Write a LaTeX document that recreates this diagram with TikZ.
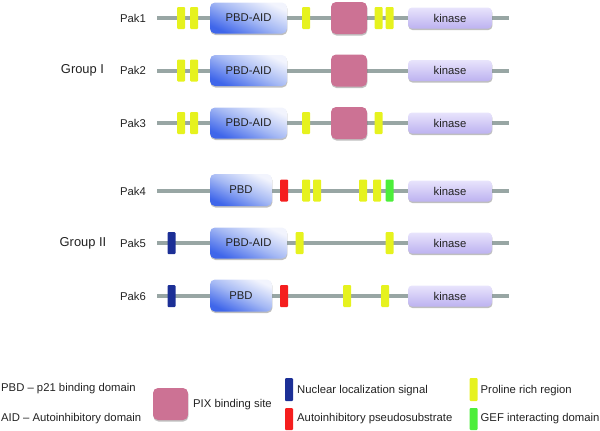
\documentclass[tikz,border=0pt]{standalone}
\usepackage{fontspec}
\setmainfont{Liberation Sans}
\usetikzlibrary{shadows}
\definecolor{bbgray}{HTML}{98A6A4}
\definecolor{pbddark}{HTML}{3F66EA}
\definecolor{pbdmid}{HTML}{A4B8F4}
\definecolor{pbdlight}{HTML}{F2F4FD}
\definecolor{kintop}{HTML}{E8E4FC}
\definecolor{kinbot}{HTML}{BDB2F0}
\definecolor{pixpink}{HTML}{CC7294}
\definecolor{proyellow}{HTML}{E6F21E}
\definecolor{nlsblue}{HTML}{1C2F96}
\definecolor{aipred}{HTML}{F51E1E}
\definecolor{gefgreen}{HTML}{4CEE3A}
\definecolor{txt}{HTML}{222222}
\tikzset{
  backbone/.style={draw=bbgray, line width=4pt},
  softshadow/.style={drop shadow={shadow xshift=0.4pt, shadow yshift=-1.5pt, opacity=0.25, fill=black}},
  pbdbox/.style={rectangle, rounded corners=5pt, minimum height=31pt, inner sep=0pt,
    top color=pbdlight, bottom color=pbddark, middle color=pbdmid, shading angle=-25,
    softshadow, text=txt},
  kinbox/.style={rectangle, rounded corners=4pt, minimum width=84pt, minimum height=21pt, inner sep=0pt,
    top color=kintop, bottom color=kinbot, softshadow, text=txt},
  pixbox/.style={rectangle, rounded corners=5pt, minimum width=36pt, minimum height=32pt, inner sep=0pt,
    fill=pixpink, softshadow},
  bar/.style={rectangle, rounded corners=1pt, minimum width=8pt, minimum height=22pt, inner sep=0pt},
  pro/.style={bar, fill=proyellow},
  nls/.style={bar, fill=nlsblue},
  aip/.style={bar, fill=aipred},
  gef/.style={bar, fill=gefgreen},
  paklbl/.style={anchor=east, inner sep=0pt, text=txt},
  grplbl/.style={inner sep=0pt, text=txt, font=\fontsize{12.9}{15}\selectfont},
  leglbl/.style={anchor=west, inner sep=0pt, text=txt},
}
\begin{document}
\begin{tikzpicture}[x=1pt,y=-1pt, font=\fontsize{11.3}{13.5}\selectfont]
\useasboundingbox (0,0) rectangle (600,431);

% ---------- backbones ----------
\foreach \n/\y in {1/18,2/70.5,3/123,4/191,5/243,6/296}{
  \coordinate (s\n) at (157,\y);
  \coordinate (e\n) at (509,\y);
  \draw[backbone] (s\n) -- (e\n);
}

% ---------- Pak1 ----------
\node[paklbl] (l1) at (146,18) {Pak1};
\node[pro] (a1) at (181,18) {};
\node[pro] (b1) at (194,18) {};
\node[pbdbox, minimum width=77pt] (pbd1) at (248.5,18) {PBD-AID};
\node[pro] (c1) at (306,18) {};
\node[pixbox] (pix1) at (349,18) {};
\node[pro] (d1) at (378.5,18) {};
\node[pro] (f1) at (389.5,18) {};
\node[kinbox] (k1) at (450,18) {kinase};

% ---------- Pak2 ----------
\node[grplbl] (g1) at (82.5,70.5) {Group I};
\node[paklbl] (l2) at (146,70.5) {Pak2};
\node[pro] (a2) at (181,70.5) {};
\node[pro] (b2) at (194,70.5) {};
\node[pbdbox, minimum width=77pt] (pbd2) at (248.5,70.5) {PBD-AID};
\node[pixbox] (pix2) at (349,70.5) {};
\node[kinbox] (k2) at (450,70.5) {kinase};

% ---------- Pak3 ----------
\node[paklbl] (l3) at (146,123) {Pak3};
\node[pro] (a3) at (181,123) {};
\node[pro] (b3) at (194,123) {};
\node[pbdbox, minimum width=77pt] (pbd3) at (248.5,123) {PBD-AID};
\node[pro] (c3) at (306,123) {};
\node[pixbox] (pix3) at (349,123) {};
\node[pro] (d3) at (378.5,123) {};
\node[kinbox] (k3) at (450,123) {kinase};

% ---------- Pak4 ----------
\node[paklbl] (l4) at (146,191) {Pak4};
\node[pbdbox, minimum width=62pt, minimum height=32pt] (pbd4) at (241,190) {PBD};
\node[aip] (r4) at (284,190.5) {};
\node[pro] (a4) at (306,190.5) {};
\node[pro] (b4) at (317,190.5) {};
\node[pro] (c4) at (363,190.5) {};
\node[pro] (d4) at (377,190.5) {};
\node[gef] (f4) at (389.5,190.5) {};
\node[kinbox] (k4) at (450,191) {kinase};

% ---------- Pak5 ----------
\node[grplbl] (g2) at (83,243) {Group II};
\node[paklbl] (l5) at (146,243) {Pak5};
\node[nls] (n5) at (171.5,243) {};
\node[pbdbox, minimum width=77pt] (pbd5) at (248.5,243) {PBD-AID};
\node[pro] (a5) at (299.5,243) {};
\node[pro] (b5) at (389.5,243) {};
\node[kinbox] (k5) at (450,243) {kinase};

% ---------- Pak6 ----------
\node[paklbl] (l6) at (146,296) {Pak6};
\node[nls] (n6) at (171.5,296) {};
\node[pbdbox, minimum width=62pt, minimum height=32pt] (pbd6) at (241,295.5) {PBD};
\node[aip] (r6) at (284,296) {};
\node[pro] (a6) at (347,296) {};
\node[pro] (b6) at (385,296) {};
\node[kinbox] (k6) at (450,296) {kinase};

% ---------- legend ----------
\node[leglbl] (t1) at (1,389) {PBD – p21 binding domain};
\node[leglbl] (t2) at (1,419) {AID – Autoinhibitory domain};
\node[pixbox, minimum width=35pt] (lpix) at (170.5,404) {};
\node[leglbl] (t3) at (193,405) {PIX binding site};
\node[nls, minimum height=23pt] (lnls) at (289,389.5) {};
\node[leglbl] (t4) at (297,391) {Nuclear localization signal};
\node[aip] (laip) at (289,419) {};
\node[leglbl] (t5) at (297,419) {Autoinhibitory pseudosubstrate};
\node[pro, minimum height=23pt] (lpro) at (473.5,389.5) {};
\node[leglbl] (t6) at (480.5,391) {Proline rich region};
\node[gef] (lgef) at (473.5,419) {};
\node[leglbl] (t7) at (480.5,419) {GEF interacting domain};
\end{tikzpicture}
\end{document}
